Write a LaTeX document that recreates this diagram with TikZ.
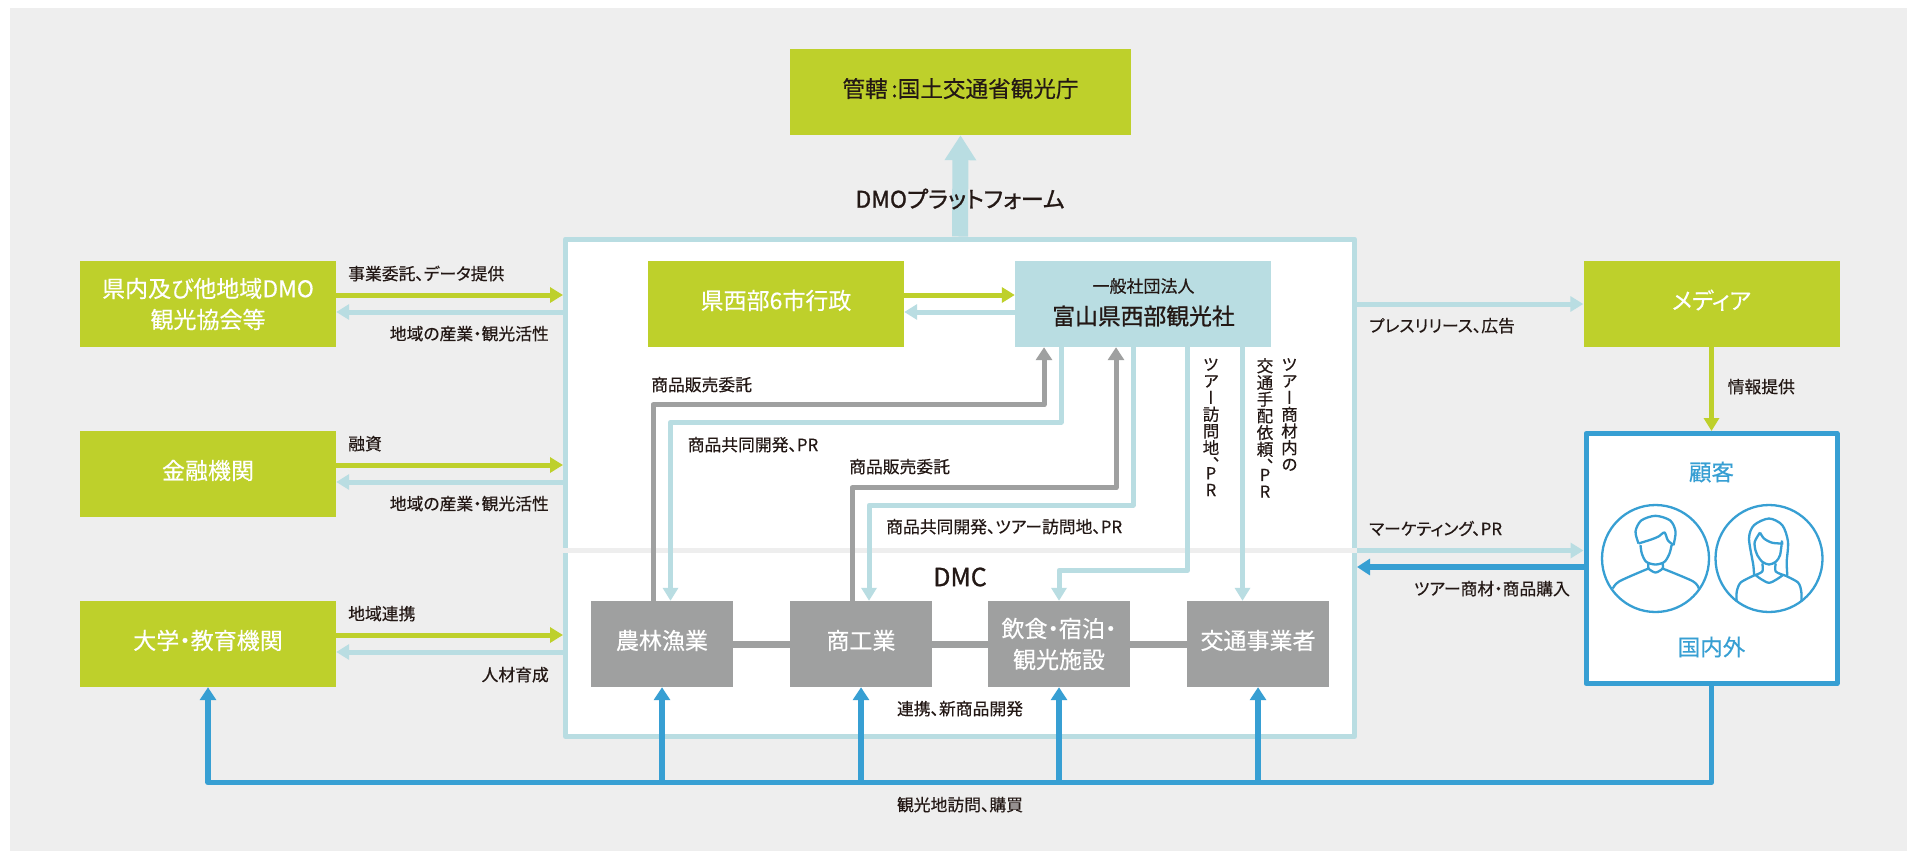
\documentclass[tikz,border=0pt]{standalone}
\usepackage{fontspec}
\setmainfont{Noto Sans CJK JP}[RawFeature=+palt,FakeBold=0.35]
\newfontfamily\tatefont{Noto Sans CJK JP}[RawFeature=+vert,FakeBold=0.35]
\newfontfamily\strongfont{Noto Sans CJK JP}[RawFeature=+palt,FakeBold=1.1]
\usetikzlibrary{arrows.meta, positioning}
\definecolor{pagegrey}{HTML}{EEEEEE}
\definecolor{boxgreen}{HTML}{BED02B}
\definecolor{paleblue}{HTML}{B9DDE2}
\definecolor{deepblue}{HTML}{379FD3}
\definecolor{boxgrey}{HTML}{9FA0A0}
\definecolor{inkdark}{HTML}{231815}

\begin{document}
\begin{tikzpicture}[x=1pt,y=-1pt,on grid,line join=round,
      basebox/.style={minimum width=256pt,minimum height=86pt,inner sep=0pt,align=center,font=\fontsize{23}{31}\selectfont},
      greenbox/.style={basebox,fill=boxgreen,text=white},
      greybox/.style={basebox,minimum width=142pt,fill=boxgrey,text=white},
      lifted/.style={text height=19pt,text depth=8.7pt},
      note/.style={inner sep=0pt,text=inkdark,text height=14pt,text depth=2pt,font=\fontsize{16.8}{18}\selectfont},
      tate/.style={inner sep=0pt,text=inkdark,align=center,anchor=north,font=\tatefont\fontsize{16.5}{16.7}\selectfont},
      greenline/.style={draw=boxgreen,line width=5pt,-{Triangle[length=13pt,width=15pt]}},
      paleline/.style={draw=paleblue,line width=5pt,-{Triangle[length=13pt,width=15pt]}},
      greyline/.style={draw=boxgrey,line width=5pt,-{Triangle[length=13pt,width=16pt]}},
      blueline/.style={draw=deepblue,line width=5.5pt,-{Triangle[length=13pt,width=16pt]}},
      iconline/.style={draw=deepblue,line width=2.3pt}]
      \useasboundingbox (0,0) rectangle (1910,852);
      \fill[pagegrey] (10,8) rectangle (1907,851);

      \node[draw=paleblue,fill=white,line width=5pt,minimum width=789pt,minimum height=497.5pt] (platform) at (960,487.75) {};
      \coordinate (midline) at (960,550.5);
      \coordinate (busline) at (960,782.5);
      \draw[pagegrey,line width=5pt] (platform.west |- midline) -- (platform.east |- midline);

      \node[greenbox,lifted,minimum width=341pt,text=inkdark,font=\fontsize{22.6}{31}\selectfont] (agency) at (960.5,92) {管轄\,:国土交通省観光庁};
      \node[greenbox] (dmo) at (208,304) {県内及び他地域DMO\\観光協会等};
      \node[greenbox,lifted,below=170pt of dmo] (bank) {金融機関};
      \node[greenbox,lifted,below=170pt of bank] (school) {大学・教育機関};
      \node[greenbox,lifted,right=568pt of dmo] (city) {県西部6市行政};
      \node[basebox,fill=paleblue,text=inkdark,right=367pt of city] (dmc) {};
      \node[greenbox,lifted,right=568.5pt of dmc] (media) {メディア};
      \node[draw=deepblue,fill=white,line width=5pt,minimum width=251pt,minimum height=250pt,below=254.5pt of media] (customer) {};
      \node[greybox,lifted] (farm) at (662,644) {農林漁業};
      \node[greybox,lifted,right=199pt of farm] (trade) {商工業};
      \node[greybox,right=198pt of trade] (stay) {飲食・宿泊・\\観光施設};
      \node[greybox,lifted,right=199pt of stay] (traffic) {交通事業者};

      \draw[draw=boxgrey,line width=7pt] (farm.east) -- (trade.west);
      \draw[draw=boxgrey,line width=7pt] (trade.east) -- (stay.west);
      \draw[draw=boxgrey,line width=7pt] (stay.east) -- (traffic.west);

      \draw[draw=paleblue,line width=16pt,-{Triangle[length=25pt,width=30pt]}] (platform.north) -- (agency.south);
      \draw[greenline] ([yshift=9pt]dmo.east) -- ([yshift=9pt]dmo.east -| platform.west);
      \draw[paleline] ([yshift=-8pt]dmo.east -| platform.west) -- ([yshift=-8pt]dmo.east);
      \draw[greenline] ([yshift=9pt]bank.east) -- ([yshift=9pt]bank.east -| platform.west);
      \draw[paleline] ([yshift=-8pt]bank.east -| platform.west) -- ([yshift=-8pt]bank.east);
      \draw[greenline] ([yshift=9pt]school.east) -- ([yshift=9pt]school.east -| platform.west);
      \draw[paleline] ([yshift=-8pt]school.east -| platform.west) -- ([yshift=-8pt]school.east);
      \draw[greenline] ([yshift=9pt]city.east) -- ([yshift=9pt]dmc.west);
      \draw[paleline] ([yshift=-8pt]dmc.west) -- ([yshift=-8pt]city.east);

      \draw[greyline] ([xshift=-9pt]farm.north) -- ++(0,-196) -| ([xshift=-99pt]dmc.south);
      \draw[paleline] ([xshift=-82pt]dmc.south) -- ++(0,75) -| ([xshift=8.5pt]farm.north);
      \draw[greyline] ([xshift=-9pt]trade.north) -- ++(0,-113) -| ([xshift=-27pt]dmc.south);
      \draw[paleline] ([xshift=-10pt]dmc.south) -- ++(0,158) -| ([xshift=8pt]trade.north);
      \draw[paleline] ([xshift=44.5pt]dmc.south) -- ++(0,223) -| (stay.north);
      \draw[paleline] ([xshift=99.5pt]dmc.south) -- ([xshift=99.5pt]dmc.south |- traffic.north);

      \draw[paleline] (platform.east |- media) -- (media.west);
      \draw[greenline] (media.south) -- (customer.north);
      \draw[paleline] (platform.east |- midline) -- (customer.west |- midline);
      \draw[blueline] ([yshift=-8.5pt]customer.west) -- ([yshift=-8.5pt]customer.west -| platform.east);
      \draw[blueline] (customer.south) -- (customer.south |- busline) -| (school.south);
      \draw[blueline] (farm.south |- busline) -- (farm.south);
      \draw[blueline] (trade.south |- busline) -- (trade.south);
      \draw[blueline] (stay.south |- busline) -- (stay.south);
      \draw[blueline] (traffic.south |- busline) -- (traffic.south);

      \node[text=inkdark,inner sep=0pt,font=\fontsize{17}{20}\selectfont] (dmc_kind) at (1143.5,286) {一般社団法人};
      \node[text=inkdark,inner sep=0pt,font=\strongfont\fontsize{22.8}{26}\selectfont] (dmc_name) at (1143.5,316) {富山県西部観光社};
      \node[text=inkdark,inner sep=0pt,font=\strongfont\fontsize{23}{26}\selectfont] (platform_name) at (960,199) {DMOプラットフォーム};
      \node[text=inkdark,inner sep=0pt,font=\strongfont\fontsize{25}{26}\selectfont] (dmc_area) at (960,577) {DMC};
      \node[text=deepblue,inner sep=0pt,font=\fontsize{22.5}{26}\selectfont] (customer_name) at (1711.5,472) {顧客};
      \node[text=deepblue,inner sep=0pt,font=\fontsize{22.5}{26}\selectfont] (customer_area) at (1711.5,647) {国内外};

      \node[note,anchor=west] (dmo_out) at (348,274) {事業委託、データ提供};
      \node[note,anchor=east] (dmo_in) at (549,334) {地域の産業・観光活性};
      \node[note,anchor=west] (bank_out) at (348,444) {融資};
      \node[note,anchor=east] (bank_in) at (549,504) {地域の産業・観光活性};
      \node[note,anchor=west] (school_out) at (348,614) {地域連携};
      \node[note,anchor=east] (school_in) at (549,675) {人材育成};
      \node[note,anchor=west] (farm_up) at (651,385) {商品販売委託};
      \node[note,anchor=west] (farm_down) at (687.5,445) {商品共同開発、PR};
      \node[note,anchor=west] (trade_up) at (849,467) {商品販売委託};
      \node[note,anchor=west] (trade_down) at (886,527) {商品共同開発、ツアー訪問地、PR};
      \node[note,anchor=west] (press) at (1369,326) {プレスリリース、広告};
      \node[note,anchor=west] (media_info) at (1727.5,387) {情報提供};
      \node[note,anchor=west] (marketing) at (1369,529) {マーケティング、PR};
      \node[note,anchor=east] (purchase) at (1570,589) {ツアー商材・商品購入};
      \node[note] (partner) at (960,709) {連携、新商品開発};
      \node[note] (visit) at (960,805) {観光地訪問、購買};

      \node[tate] (stay_note) at (1211,358) {ツ\\ア\\ー\\訪\\問\\地\\、\\[-8pt]P\\R};
      \node[tate] (traffic_note) at (1265,358) {交\\通\\手\\配\\依\\頼\\、\\[-8pt]P\\R};
      \node[tate] (traffic_head) at (1289.5,358) {ツ\\ア\\ー\\商\\材\\内\\の};

      \node[circle,draw=deepblue,line width=2.3pt,minimum size=107pt,left=56pt of customer] (man) {};
      \node[circle,draw=deepblue,line width=2.3pt,minimum size=107pt,right=57.5pt of customer] (woman) {};
      \draw[iconline,shift={(man.center)}]
        plot[smooth] coordinates {(-17,-15) (-20,-27) (-14.3,-38) (0,-42.7) (14.7,-38) (20,-27) (18,-13.3)}
        plot[smooth] coordinates {(-17,-15) (-4.3,-19) (3,-22) (9,-26) (12.3,-18.3) (18,-13.3)}
        plot[smooth] coordinates {(-15,-13.3) (-13.7,-5) (-9.3,3.3) (0,6) (9,3.3) (14,-5) (16,-13.3)}
        plot[smooth] coordinates {(-7,5) (-7,10) (0,14) (7,10) (7,4.5)}
        plot[smooth] coordinates {(-7,10) (-36,22.7) (-42.7,30)}
        plot[smooth] coordinates {(7,10) (37.3,22.7) (43.3,30)};
      \draw[iconline,shift={(woman.center)}]
        plot[smooth] coordinates {(-15,16.7) (-15.7,6.7) (-20,-20) (-15,-33.3) (0,-40) (13.3,-33.3) (19,-16.7) (17.7,3.3) (18.3,16.7)}
        plot[smooth] coordinates {(-9,-26) (-14.3,-16.7) (-13.5,-8) (-11.7,-3.3) (-6.7,3.3) (0,6) (6.7,3.3) (11,-3.3) (13,-18)}
        plot[smooth] coordinates {(-9,-26) (-5,-20) (3.3,-15.7) (14.3,-15)}
        plot[smooth] coordinates {(-6.7,5) (-6.7,13) (-15,17)}
        plot[smooth] coordinates {(6.7,5) (6.7,13) (16,17)}
        plot[smooth] coordinates {(-13,17) (0,24.3) (13.3,17)}
        plot[smooth] coordinates {(-15,17) (-28.3,24) (-32.3,33.3) (-32.3,43.3)}
        plot[smooth] coordinates {(16,17) (29,24) (32.3,33.3) (32.3,43.3)};
    \end{tikzpicture}
\end{document}
